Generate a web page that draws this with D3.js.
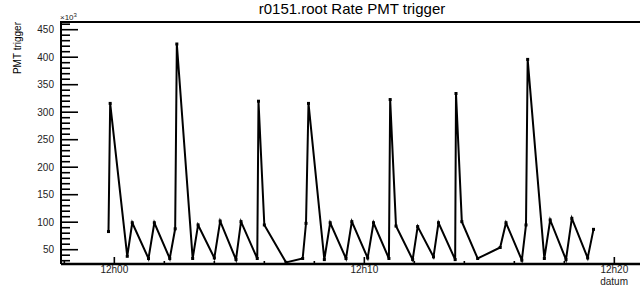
<!DOCTYPE html>
<html>
<head>
<meta charset="utf-8">
<script src="https://cdn.jsdelivr.net/npm/d3@7/dist/d3.min.js"></script>
<style>
	html, body { margin: 0; padding: 0; background: #fff; }
	svg { display: block; font-family: 'Liberation Sans', Arial, sans-serif; }
</style>
</head>
<body>
<div id="cont"></div>
<script>
	'use strict';

	// sample times (hh:mm:ss)
	const times = [
		'11:59:46', '11:59:50', '12:00:31', '12:00:43', '12:01:22', '12:01:36',
		'12:02:13', '12:02:26', '12:02:30', '12:03:08', '12:03:21', '12:04:00',
		'12:04:14', '12:04:52', '12:05:04', '12:05:43', '12:05:46', '12:06:00',
		'12:06:52', '12:07:32', '12:07:40', '12:07:46', '12:08:24', '12:08:38',
		'12:09:16', '12:09:30', '12:10:08', '12:10:22', '12:10:59', '12:11:02',
		'12:11:16', '12:11:56', '12:12:08', '12:12:46', '12:12:58', '12:13:38',
		'12:13:40', '12:13:54', '12:14:32', '12:15:26', '12:15:40', '12:16:18',
		'12:16:28', '12:16:32', '12:17:12', '12:17:26', '12:18:04', '12:18:18',
		'12:18:56', '12:19:10'
	];

	// PMT trigger rate, in units of 10^3
	const rates = [
		83, 316, 38, 99, 34, 99,
		34, 88, 424, 34, 95, 35,
		102, 32, 101, 34, 320, 95,
		27, 34, 98, 316, 32, 99,
		34, 101, 35, 99, 34, 323,
		93, 32, 92, 37, 99, 32,
		334, 101, 34, 54, 99, 31,
		95, 396, 34, 104, 32, 107,
		35, 87
	];

	const yTicks = [50, 100, 150, 200, 250, 300, 350, 400, 450];
	const xTickTimes = ['12:00:00', '12:10:00', '12:20:00'];
	const yDomain = [24, 464];
	const xDomain = ['11:57:52', '12:21:04'];

	const W = 640, H = 288;
	const margin = { left: 61, right: 640, top: 22, bottom: 264 };

	const parseTime = d3.timeParse('%H:%M:%S');
	const fmt = d3.timeFormat('%Hh%M');

	const data = times.map((t, i) => ({ date: parseTime(t), value: rates[i] }));

	const x = d3.scaleTime()
		.domain(xDomain.map(parseTime))
		.range([margin.left, margin.right + 1]);

	const y = d3.scaleLinear()
		.domain(yDomain)
		.range([margin.bottom, margin.top]);

	const svg = d3.select('#cont')
		.append('svg')
		.attr('width', W)
		.attr('height', H);

	// title
	svg.append('text')
		.attr('x', 352)
		.attr('y', 14)
		.attr('text-anchor', 'middle')
		.style('font-size', '15px')
		.text('r0151.root Rate PMT trigger');

	// y axis minor / major ticks
	const yMinor = d3.range(30, 461, 10);
	svg.append('g')
		.selectAll('line')
		.data(yMinor)
		.join('line')
		.attr('x1', margin.left)
		.attr('x2', d => margin.left + (d % 50 === 0 ? 17 : 9))
		.attr('y1', d => y(d))
		.attr('y2', d => y(d))
		.attr('stroke', '#000')
		.attr('stroke-width', 1.6);

	svg.append('g')
		.selectAll('text')
		.data(yTicks)
		.join('text')
		.attr('x', 54)
		.attr('y', d => y(d) + 3.5)
		.attr('text-anchor', 'end')
		.style('font-size', '10px')
		.style('fill', '#222')
		.text(d => d);

	// x10^3 multiplier
	const mult = svg.append('text')
		.attr('x', 60)
		.attr('y', 20)
		.style('font-size', '8px')
		.style('fill', '#222');
	mult.append('tspan').text('\u00d710');
	mult.append('tspan').attr('dy', -3).style('font-size', '6px').text('3');

	// y axis title
	svg.append('text')
		.attr('transform', 'translate(21,' + margin.top + ') rotate(-90)')
		.attr('text-anchor', 'end')
		.style('font-size', '10px')
		.text('PMT trigger');

	// x axis ticks: minor every 2 min, major every 10 min
	const xMinor = d3.timeMinute.every(2).range(x.domain()[0], x.domain()[1]);
	svg.append('g')
		.selectAll('line')
		.data(xMinor)
		.join('line')
		.attr('x1', d => x(d))
		.attr('x2', d => x(d))
		.attr('y1', margin.bottom)
		.attr('y2', d => margin.bottom - (d.getMinutes() % 10 === 0 ? 7 : 3))
		.attr('stroke', '#000')
		.attr('stroke-width', 1.6);

	svg.append('g')
		.selectAll('text')
		.data(xTickTimes.map(parseTime))
		.join('text')
		.attr('x', d => x(d))
		.attr('y', 273)
		.attr('text-anchor', 'middle')
		.style('font-size', '10px')
		.style('fill', '#222')
		.text(d => fmt(d));

	svg.append('text')
		.attr('x', 628)
		.attr('y', 285)
		.attr('text-anchor', 'end')
		.style('font-size', '10px')
		.style('fill', '#222')
		.text('datum');

	// frame
	svg.append('path')
		.attr('d', 'M' + margin.left + ',' + margin.bottom + 'V' + margin.top + 'H' + W)
		.attr('fill', 'none')
		.attr('stroke', '#000')
		.attr('stroke-width', 2);
	svg.append('line')
		.attr('x1', margin.left)
		.attr('x2', W)
		.attr('y1', margin.bottom)
		.attr('y2', margin.bottom)
		.attr('stroke', '#000')
		.attr('stroke-width', 2.4);

	// the graph
	const line = d3.line()
		.x(d => x(d.date))
		.y(d => y(d.value));

	svg.append('path')
		.datum(data)
		.attr('d', line)
		.attr('fill', 'none')
		.attr('stroke', '#000')
		.attr('stroke-width', 2)
		.attr('stroke-linejoin', 'miter');

	svg.append('g')
		.selectAll('rect')
		.data(data)
		.join('rect')
		.attr('x', d => x(d.date) - 1.5)
		.attr('y', d => y(d.value) - 1.5)
		.attr('width', 3)
		.attr('height', 3)
		.attr('fill', '#000');
</script>
</body>
</html>
